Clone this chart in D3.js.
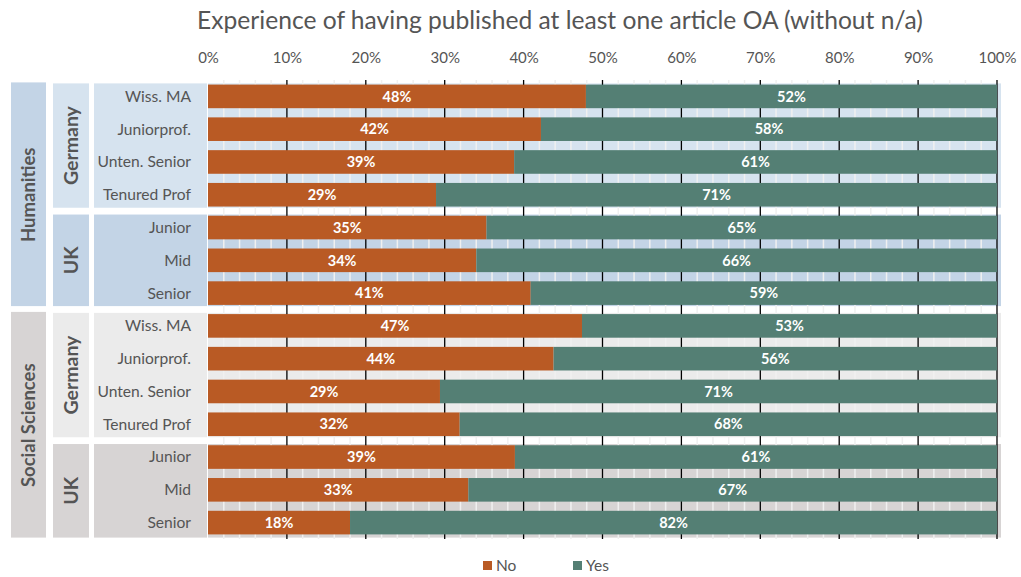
<!DOCTYPE html>
<html>
<head>
<meta charset="utf-8">
<script src="https://cdn.jsdelivr.net/npm/d3@7"></script>
<style>
  html, body { margin: 0; padding: 0; background: #fff; }
  svg { display: block; font-family: Lato, "Open Sans", sans-serif; }
</style>
</head>
<body>
<svg id="chart" width="1021" height="577"></svg>
<script>
// ---- data ----
const title = "Experience of having published at least one article OA (without n/a)";
const disciplines = ["Humanities", "Social Sciences"];
const countries = ["Germany", "UK"];
const germanRanks = ["Wiss. MA", "Juniorprof.", "Unten. Senior", "Tenured Prof"];
const ukRanks = ["Junior", "Mid", "Senior"];
const seriesNames = ["No", "Yes"];
const noValues  = [47.9, 42.2, 38.8, 28.9, 35.3, 34.0, 40.9, 47.4, 43.8, 29.4, 31.9, 38.9, 33.0, 18.0];
const yesValues = [52.1, 57.8, 61.2, 71.1, 64.7, 66.0, 59.1, 52.6, 56.2, 70.6, 68.1, 61.1, 67.0, 82.0];
const tickValues = [0, 10, 20, 30, 40, 50, 60, 70, 80, 90, 100];

// ---- styles ----
const colNo = "#b95a24", colYes = "#547f74";
const textCol = "#555555";
const bandColors = {
  "Humanities|Germany": "#d6e3ef", "Humanities|UK": "#c3d4e6",
  "Social Sciences|Germany": "#ebebeb", "Social Sciences|UK": "#d7d4d4"
};
const discColors = { "Humanities": "#c3d4e6", "Social Sciences": "#d7d4d4" };

// ---- build rows ----
const rows = [];
disciplines.forEach(d => {
  countries.forEach(c => {
    const ranks = c === "Germany" ? germanRanks : ukRanks;
    ranks.forEach(r => {
      const i = rows.length;
      rows.push({ id: i, discipline: d, country: c, rank: r, no: noValues[i], yes: yesValues[i] });
    });
  });
});

const svg = d3.select("#chart");
const x = d3.scaleLinear().domain([0, 100]).range([208, 997]);
const y = d3.scaleBand().domain(rows.map(r => r.id)).range([80, 539]).paddingInner(0.28).paddingOuter(0.14);
const half = (y.step() - y.bandwidth()) / 2;
const inset = 3.4;

function groupExtent(filterFn) {
  const rs = rows.filter(filterFn);
  const top = y(rs[0].id) - half;
  const bot = y(rs[rs.length - 1].id) + y.bandwidth() + half;
  return [top + inset, bot - inset];
}

// title
svg.append("text")
  .attr("x", 560).attr("y", 29)
  .attr("text-anchor", "middle")
  .attr("fill", textCol)
  .style("font-size", "22px")
  .text(title)
  .call(t => {
    const w = t.node().getComputedTextLength();
    t.style("font-size", (22 * 726 / w) + "px");
  });

// group cells and plot bands
const groups = [];
disciplines.forEach(d => countries.forEach(c => groups.push({ d, c })));

groups.forEach((g, gi) => {
  let [t, b] = groupExtent(r => r.discipline === g.d && r.country === g.c);
  if (gi === groups.length - 1) b += 2;
  const col = bandColors[g.d + "|" + g.c];
  svg.append("rect").attr("x", 53).attr("y", t).attr("width", 36).attr("height", b - t).attr("fill", col);
  svg.append("rect").attr("x", 94).attr("y", t).attr("width", 113).attr("height", b - t).attr("fill", col);
  svg.append("rect").attr("x", x(0)).attr("y", t).attr("width", 1001 - x(0)).attr("height", b - t).attr("fill", col);
  svg.append("text")
    .attr("transform", `translate(78,${(t + b) / 2}) rotate(-90)`)
    .attr("text-anchor", "middle")
    .attr("fill", textCol)
    .style("font-size", "19.5px").style("font-weight", "bold")
    .text(g.c);
});

disciplines.forEach((d, di) => {
  let [t, b] = groupExtent(r => r.discipline === d);
  if (di === disciplines.length - 1) b += 2;
  svg.append("rect").attr("x", 11).attr("y", t - 1).attr("width", 35).attr("height", b - t + 1).attr("fill", discColors[d]);
  svg.append("text")
    .attr("transform", `translate(35,${(t + b) / 2}) rotate(-90)`)
    .attr("text-anchor", "middle")
    .attr("fill", textCol)
    .style("font-size", "18.5px").style("font-weight", "bold")
    .text(d);
});

// gridlines
const minor = d3.range(0, 101, 2).filter(v => v % 10 !== 0);
svg.append("g").selectAll("line").data(minor).join("line")
  .attr("x1", d => x(d)).attr("x2", d => x(d))
  .attr("y1", 80).attr("y2", 539)
  .attr("stroke", "#f0f0f0").attr("stroke-width", 1.5);
svg.append("g").selectAll("line").data(tickValues.filter(v => v > 0)).join("line")
  .attr("x1", d => x(d)).attr("x2", d => x(d))
  .attr("y1", 80).attr("y2", 539)
  .attr("stroke", "#000").attr("stroke-width", 1.3);

// axis
const axis = d3.axisTop(x).tickValues(tickValues).tickFormat(d => d + "%").tickSize(0).tickPadding(0);
const ag = svg.append("g").attr("transform", "translate(0,63)").call(axis);
ag.select(".domain").remove();
ag.selectAll("text").attr("fill", textCol).style("font-size", "15px").style("font-family", "Lato, 'Open Sans', sans-serif");

// row labels
svg.append("g").selectAll("text").data(rows).join("text")
  .attr("x", 191).attr("y", r => y(r.id) + y.bandwidth() / 2)
  .attr("dy", "0.35em")
  .attr("text-anchor", "end")
  .attr("fill", textCol)
  .style("font-size", "15.6px")
  .text(r => r.rank);

// bars
const bars = svg.append("g");
bars.selectAll("rect.no").data(rows).join("rect").attr("class", "no")
  .attr("x", x(0)).attr("y", r => y(r.id))
  .attr("width", r => x(r.no) - x(0)).attr("height", y.bandwidth())
  .attr("fill", colNo);
bars.selectAll("rect.yes").data(rows).join("rect").attr("class", "yes")
  .attr("x", r => x(r.no)).attr("y", r => y(r.id))
  .attr("width", r => x(r.no + r.yes) - x(r.no)).attr("height", y.bandwidth())
  .attr("fill", colYes);

// value labels
const lab = svg.append("g").attr("fill", "#fff").style("font-size", "14.5px").style("font-weight", "bold").attr("text-anchor", "middle");
lab.selectAll("text.no").data(rows).join("text").attr("class", "no")
  .attr("x", r => (x(0) + x(r.no)) / 2).attr("y", r => y(r.id) + y.bandwidth() / 2).attr("dy", "0.36em")
  .text(r => Math.round(r.no) + "%");
lab.selectAll("text.yes").data(rows).join("text").attr("class", "yes")
  .attr("x", r => (x(r.no) + x(r.no + r.yes)) / 2).attr("y", r => y(r.id) + y.bandwidth() / 2).attr("dy", "0.36em")
  .text(r => Math.round(r.yes) + "%");

// legend
const legend = svg.append("g");
const legX = [483, 573];
seriesNames.forEach((s, i) => {
  legend.append("rect").attr("x", legX[i]).attr("y", 561).attr("width", 9).attr("height", 9).attr("fill", i === 0 ? colNo : colYes);
  legend.append("text").attr("x", legX[i] + 13).attr("y", 571).attr("fill", textCol).style("font-size", "15.5px").text(s);
});
</script>
</body>
</html>
